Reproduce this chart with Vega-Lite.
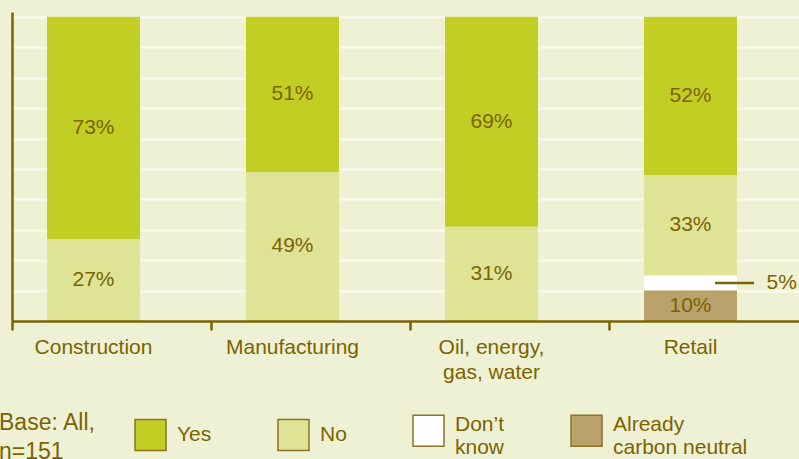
{
  "$schema": "https://vega.github.io/schema/vega-lite/v6.json",
  "autosize": {"type": "none"},
  "width": 787,
  "height": 309,
  "padding": {"left": 12, "top": 12, "right": 0, "bottom": 138},
  "background": "#EFF1D4",
  "data": {
    "values": [
      {"sector": "Construction", "response": "Yes", "share": 0.73},
      {"sector": "Construction", "response": "No", "share": 0.27},
      {"sector": "Manufacturing", "response": "Yes", "share": 0.51},
      {"sector": "Manufacturing", "response": "No", "share": 0.49},
      {"sector": "Oil, energy, gas, water", "response": "Yes", "share": 0.69},
      {"sector": "Oil, energy, gas, water", "response": "No", "share": 0.31},
      {"sector": "Retail", "response": "Yes", "share": 0.52},
      {"sector": "Retail", "response": "No", "share": 0.33},
      {"sector": "Retail", "response": "Don’t know", "share": 0.05},
      {"sector": "Retail", "response": "Already carbon neutral", "share": 0.10}
    ]
  },
  "transform": [
    {"stack": "share", "groupby": ["sector"], "sort": [{"field": "response", "order": "ascending"}], "as": ["v0", "v1"]},
    {"calculate": "(datum.v0 + datum.v1) / 2", "as": "mid"}
  ],
  "encoding": {
    "x": {
      "field": "sector",
      "type": "nominal",
      "sort": ["Construction", "Manufacturing", "Oil, energy, gas, water", "Retail"],
      "scale": {"range": [0, 796], "paddingInner": 0, "paddingOuter": 0},
      "axis": {
        "title": null,
        "labelAngle": 0,
        "bandPosition": 0,
        "labelOffset": -18,
        "labelPadding": 6,
        "labelFontSize": 21,
        "labelLineHeight": 25,
        "labelExpr": "datum.label == 'Oil, energy, gas, water' ? ['Oil, energy,', 'gas, water'] : datum.label",
        "grid": false,
        "zindex": 2
      }
    }
  },
  "layer": [
    {
      "mark": {"type": "bar", "width": {"band": 0.467}, "xOffset": -18},
      "encoding": {
        "y": {
          "field": "v0",
          "type": "quantitative",
          "scale": {"domain": [0, 1.016], "nice": false, "zero": true},
          "axis": {
            "title": null,
            "labels": false,
            "ticks": false,
            "grid": true,
            "tickCount": 10,
            "gridColor": "#F8F9EB",
            "gridWidth": 2.5,
            "zindex": 0
          }
        },
        "y2": {"field": "v1"},
        "color": {
          "field": "response",
          "type": "nominal",
          "scale": {
            "domain": ["Yes", "No", "Don’t know", "Already carbon neutral"],
            "range": ["#C2CE23", "#DEE396", "#FFFFFF", "#B9A26B"]
          },
          "legend": {
            "orient": "none",
            "legendX": -13,
            "legendY": 402,
            "direction": "horizontal",
            "columns": 4,
            "columnPadding": 63,
            "symbolType": "square",
            "symbolSize": 961,
            "symbolStrokeColor": "#8B7424",
            "symbolStrokeWidth": 1.5,
            "labelOffset": 10,
            "labelFont": "Liberation Sans",
            "labelFontSize": 21,
            "labelColor": "#7B6300",
            "labelLineHeight": 23,
            "labelLimit": 300,
            "labelExpr": "datum.label == 'Don’t know' ? ['Don’t', 'know'] : datum.label == 'Already carbon neutral' ? ['Already', 'carbon neutral'] : datum.label",
            "title": ["Base: All,", "n=151"],
            "titleOrient": "left",
            "titleFont": "Liberation Sans",
            "titleFontSize": 23,
            "titleFontWeight": "normal",
            "titleColor": "#7B6300",
            "titleLineHeight": 29,
            "titlePadding": 37,
            "titleBaseline": "top",
            "titleAnchor": "start",
            "encode": {
              "title": {"update": {"dy": {"value": -2}}},
              "symbols": {"update": {"stroke": {"value": "#8B7424"}, "strokeWidth": {"value": 1.5}}},
              "labels": {"update": {"dy": {"signal": "datum.value == 'Don’t know' || datum.value == 'Already carbon neutral' ? -6 : 0"}}}
            }
          }
        }
      }
    },
    {
      "transform": [{"filter": "datum.response != 'Don’t know'"}],
      "mark": {"type": "text", "xOffset": -18, "font": "Liberation Sans", "fontSize": 21, "color": "#7B6300", "baseline": "middle", "align": "center"},
      "encoding": {
        "y": {"field": "mid", "type": "quantitative"},
        "text": {"field": "share", "type": "quantitative", "format": ".0%"}
      }
    },
    {
      "transform": [{"filter": "datum.response == 'Don’t know'"}],
      "mark": {"type": "tick", "orient": "horizontal", "size": 39, "thickness": 2.5, "xOffset": 26, "color": "#7B6300", "opacity": 1},
      "encoding": {
        "y": {"field": "mid", "type": "quantitative"}
      }
    },
    {
      "transform": [{"filter": "datum.response == 'Don’t know'"}],
      "mark": {"type": "text", "xOffset": 58, "font": "Liberation Sans", "fontSize": 21, "color": "#7B6300", "baseline": "middle", "align": "left"},
      "encoding": {
        "y": {"field": "mid", "type": "quantitative"},
        "text": {"field": "share", "type": "quantitative", "format": ".0%"}
      }
    }
  ],
  "config": {
    "view": {"stroke": null},
    "axis": {
      "domainColor": "#7B6300",
      "domainWidth": 2.5,
      "tickColor": "#7B6300",
      "tickWidth": 2.5,
      "tickSize": 9,
      "labelColor": "#7B6300",
      "labelFont": "Liberation Sans",
      "labelFontSize": 21
    }
  }
}
